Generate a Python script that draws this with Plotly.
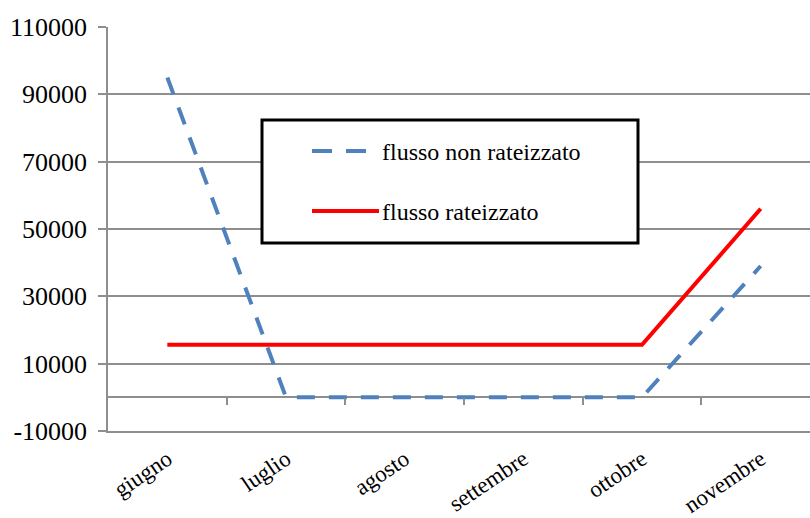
import plotly.graph_objects as go

# Monthly cash flows
mesi = ["giugno", "luglio", "agosto", "settembre", "ottobre", "novembre"]
flusso_non_rateizzato = [95000, 0, 0, 0, 0, 39000]
flusso_rateizzato = [15600, 15600, 15600, 15600, 15600, 56000]
y_ticks = [-10000, 10000, 30000, 50000, 70000, 90000, 110000]
y_tick_labels = ["-10000", "10000", "30000", "50000", "70000", "90000", "110000"]

W, H = 810, 518
L, R, T, B = 108, 810, 27, 431  # plot area in pixels
SERIF = "Liberation Serif"
GRID = "#8E8E8E"
BLUE = "#4F81BD"
RED = "#FF0000"


def px(x):
    return (x - L) / (R - L)


def py(y):
    return (B - y) / (B - T)


fig = go.Figure()
fig.add_trace(go.Scatter(
    x=mesi, y=flusso_non_rateizzato, mode="lines", name="flusso non rateizzato",
    line=dict(color=BLUE, width=4, dash="18px,14px"),
))
fig.add_trace(go.Scatter(
    x=mesi, y=flusso_rateizzato, mode="lines", name="flusso rateizzato",
    line=dict(color=RED, width=4),
))
# carrier for the tick marks on the zero line
fig.add_trace(go.Scatter(x=[], y=[], xaxis="x2", showlegend=False, hoverinfo="skip"))

n = len(mesi)
x_range = [-0.5, -0.5 + n * (R - L) / (820 - L)]

# legend box drawn by hand
shapes = [
    dict(type="rect", xref="paper", yref="paper",
         x0=px(262), x1=px(638), y0=py(243), y1=py(120),
         line=dict(color="black", width=3), fillcolor="white", layer="above"),
    dict(type="line", xref="paper", yref="paper",
         x0=px(312), x1=px(366), y0=py(151), y1=py(151),
         line=dict(color=BLUE, width=4, dash="20px,14px"), layer="above"),
    dict(type="line", xref="paper", yref="paper",
         x0=px(312), x1=px(379), y0=py(211), y1=py(211),
         line=dict(color=RED, width=4), layer="above"),
]
annotations = [
    dict(xref="paper", yref="paper", x=px(380), y=py(152), xanchor="left", yanchor="middle",
         text="flusso non rateizzato", showarrow=False,
         font=dict(family=SERIF, size=24, color="black")),
    dict(xref="paper", yref="paper", x=px(380), y=py(212), xanchor="left", yanchor="middle",
         text="flusso rateizzato", showarrow=False,
         font=dict(family=SERIF, size=24, color="black")),
]

fig.update_layout(
    width=W, height=H,
    margin=dict(l=L, r=W - R, t=T, b=H - B, pad=0, autoexpand=False),
    paper_bgcolor="white", plot_bgcolor="white",
    showlegend=False,
    font=dict(family=SERIF, color="black"),
    shapes=shapes, annotations=annotations,
    xaxis=dict(
        type="category", range=x_range, showgrid=False, zeroline=False,
        showline=True, linecolor=GRID, linewidth=1.5, ticks="", tickangle=-34,
        tickfont=dict(family=SERIF, size=23, color="black"),
        ticklabelstandoff=4, automargin=False,
    ),
    xaxis2=dict(
        overlaying="x", anchor="free", position=(0 - y_ticks[0]) / (y_ticks[-1] - y_ticks[0]),
        range=x_range, tickvals=[0.5, 1.5, 2.5, 3.5, 4.5], showticklabels=False,
        ticks="outside", ticklen=7, tickwidth=1.5, tickcolor=GRID,
        showgrid=False, zeroline=False, showline=False, automargin=False,
    ),
    yaxis=dict(
        range=[y_ticks[0], y_ticks[-1]], tickvals=y_ticks, ticktext=y_tick_labels,
        showgrid=True, gridcolor=GRID, gridwidth=1.5,
        zeroline=True, zerolinecolor=GRID, zerolinewidth=1.5,
        showline=True, linecolor=GRID, linewidth=1.5,
        ticks="outside", ticklen=8, tickwidth=1.5, tickcolor=GRID,
        tickfont=dict(family=SERIF, size=26, color="black"),
        ticklabelstandoff=6, automargin=False,
    ),
)

fig.write_html("out.html")
